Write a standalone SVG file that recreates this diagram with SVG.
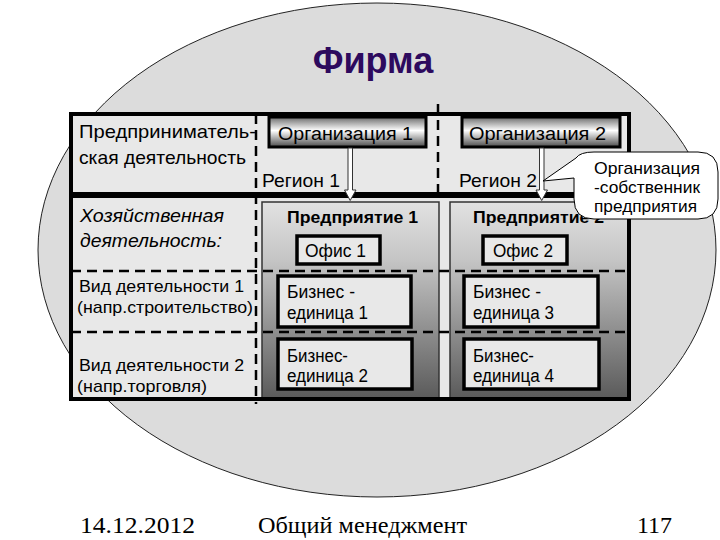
<svg xmlns="http://www.w3.org/2000/svg" width="720" height="540" viewBox="0 0 720 540">
<defs>
<linearGradient id="ent" x1="0" y1="0" x2="0" y2="1">
<stop offset="0" stop-color="#e2e2e2"/>
<stop offset="0.3" stop-color="#c4c4c4"/>
<stop offset="1" stop-color="#5a5a5a"/>
</linearGradient>
<linearGradient id="org" x1="0" y1="0" x2="0" y2="1">
<stop offset="0" stop-color="#6a6a6a"/>
<stop offset="0.45" stop-color="#ffffff"/>
<stop offset="1" stop-color="#4a4a4a"/>
</linearGradient>
<style>
.sans{font-family:"Liberation Sans",Arial,sans-serif;fill:#000}
.serif{font-family:"Liberation Serif","Times New Roman",serif;fill:#000}
.dash{stroke:#000;stroke-width:2.5;stroke-dasharray:10,6;fill:none}
.box{fill:#e8e8e8;stroke:#000;stroke-width:3.5}
.ent{fill:url(#ent);stroke:#333;stroke-width:1.5}
.org{fill:url(#org);stroke:#000;stroke-width:3}
.arrow{fill:#fff;stroke:#333;stroke-width:1}
</style>
</defs>
<rect width="720" height="540" fill="#fff"/>
<ellipse cx="377" cy="250" rx="339" ry="247" fill="#dcdcdc" stroke="#222" stroke-width="1"/>
<text class="sans" x="373" y="73" font-size="36" font-weight="bold" text-anchor="middle" style="fill:#2d0a5e">Фирма</text>

<g id="table">
<rect x="71" y="114" width="558" height="285" fill="#e8e8e8"/>
</g>

<g id="enterprise1">
<rect class="ent" x="262" y="202" width="177" height="197"/>
<text class="sans" x="287" y="223" font-size="16" font-weight="bold" textLength="131" lengthAdjust="spacingAndGlyphs">Предприятие 1</text>
</g>
<g id="enterprise2">
<rect class="ent" x="450" y="202" width="178" height="197"/>
<text class="sans" x="473" y="223" font-size="16" font-weight="bold" textLength="131" lengthAdjust="spacingAndGlyphs">Предприятие 2</text>
</g>

<g id="grid">
<line class="dash" x1="71" y1="271" x2="629" y2="271"/>
<line class="dash" x1="71" y1="332" x2="629" y2="332"/>
<line class="dash" x1="256" y1="114" x2="256" y2="404"/>
<line class="dash" x1="438" y1="104" x2="438" y2="196"/>
<line x1="71" y1="195" x2="629" y2="195" stroke="#000" stroke-width="6"/>
<rect x="71" y="114" width="558" height="285" fill="none" stroke="#000" stroke-width="4"/>
</g>

<g id="office1">
<rect class="box" x="297" y="236" width="83" height="28"/>
<text class="sans" x="305" y="257" font-size="18" textLength="61" lengthAdjust="spacingAndGlyphs">Офис 1</text>
</g>
<g id="office2">
<rect class="box" x="483" y="236" width="84" height="28"/>
<text class="sans" x="493" y="257" font-size="18" textLength="60" lengthAdjust="spacingAndGlyphs">Офис 2</text>
</g>

<g id="bu1">
<rect class="box" x="278" y="276" width="133" height="51"/>
<text class="sans" x="287" y="298" font-size="18" textLength="68" lengthAdjust="spacingAndGlyphs">Бизнес -</text>
<text class="sans" x="287" y="319" font-size="18" textLength="81" lengthAdjust="spacingAndGlyphs">единица 1</text>
</g>
<g id="bu2">
<rect class="box" x="278" y="339" width="134" height="50"/>
<text class="sans" x="287" y="362" font-size="18" textLength="61" lengthAdjust="spacingAndGlyphs">Бизнес-</text>
<text class="sans" x="287" y="382" font-size="18" textLength="81" lengthAdjust="spacingAndGlyphs">единица 2</text>
</g>
<g id="bu3">
<rect class="box" x="464" y="276" width="134" height="51"/>
<text class="sans" x="473" y="298" font-size="18" textLength="68" lengthAdjust="spacingAndGlyphs">Бизнес -</text>
<text class="sans" x="473" y="319" font-size="18" textLength="81" lengthAdjust="spacingAndGlyphs">единица 3</text>
</g>
<g id="bu4">
<rect class="box" x="464" y="339" width="135" height="50"/>
<text class="sans" x="473" y="362" font-size="18" textLength="61" lengthAdjust="spacingAndGlyphs">Бизнес-</text>
<text class="sans" x="473" y="382" font-size="18" textLength="81" lengthAdjust="spacingAndGlyphs">единица 4</text>
</g>

<g id="org1">
<rect class="org" x="269" y="117" width="157" height="30"/>
<text class="sans" x="278" y="140" font-size="18.8" textLength="135" lengthAdjust="spacingAndGlyphs">Организация 1</text>
</g>
<g id="org2">
<rect class="org" x="462" y="117" width="158" height="30"/>
<text class="sans" x="469" y="140" font-size="18.8" textLength="137" lengthAdjust="spacingAndGlyphs">Организация 2</text>
</g>

<g id="connectors">
<path class="arrow" d="M348,148 H352.5 V190 H356 L350.2,200.5 L344.5,190 H348 Z"/>
<path class="arrow" d="M539.5,148 H544 V190 H547.5 L541.7,200.5 L536,190 H539.5 Z"/>
</g>

<g id="labels">
<text class="sans" x="79" y="138" font-size="19" textLength="177" lengthAdjust="spacingAndGlyphs">Предприниматель-</text>
<text class="sans" x="79" y="164" font-size="19" textLength="167" lengthAdjust="spacingAndGlyphs">ская деятельность</text>
<text class="sans" x="80" y="222" font-size="19" font-style="italic" textLength="144" lengthAdjust="spacingAndGlyphs">Хозяйственная</text>
<text class="sans" x="80" y="247" font-size="19" font-style="italic" textLength="142" lengthAdjust="spacingAndGlyphs">деятельность:</text>
<text class="sans" x="79" y="292" font-size="17" textLength="165" lengthAdjust="spacingAndGlyphs">Вид деятельности 1</text>
<text class="sans" x="77" y="313" font-size="17" textLength="176" lengthAdjust="spacingAndGlyphs">(напр.строительство)</text>
<text class="sans" x="79" y="371" font-size="17" textLength="165" lengthAdjust="spacingAndGlyphs">Вид деятельности 2</text>
<text class="sans" x="77" y="392" font-size="17" textLength="130" lengthAdjust="spacingAndGlyphs">(напр.торговля)</text>
<text class="sans" x="262" y="187" font-size="18.5" textLength="78" lengthAdjust="spacingAndGlyphs">Регион 1</text>
<text class="sans" x="459" y="187" font-size="18.5" textLength="78" lengthAdjust="spacingAndGlyphs">Регион 2</text>
</g>

<g id="callout">
<path d="M594,152 H698 Q718,152 718,172 V199 Q718,219 698,219 H594 Q574,219 574,199 V178 L543,181 L576,158 Q580,152 594,152 Z" fill="#fff" stroke="#000" stroke-width="1"/>
<text class="sans" x="594" y="174" font-size="17" textLength="106" lengthAdjust="spacingAndGlyphs">Организация</text>
<text class="sans" x="594" y="193" font-size="17" textLength="106" lengthAdjust="spacingAndGlyphs">-собственник</text>
<text class="sans" x="594" y="212" font-size="17" textLength="103" lengthAdjust="spacingAndGlyphs">предприятия</text>
</g>

<g id="footer">
<text class="serif" x="80" y="533" font-size="24" textLength="115" lengthAdjust="spacingAndGlyphs">14.12.2012</text>
<text class="serif" x="258" y="533" font-size="24" textLength="209" lengthAdjust="spacingAndGlyphs">Общий менеджмент</text>
<text class="serif" x="637" y="533" font-size="24" textLength="35" lengthAdjust="spacingAndGlyphs">117</text>
</g>
</svg>
